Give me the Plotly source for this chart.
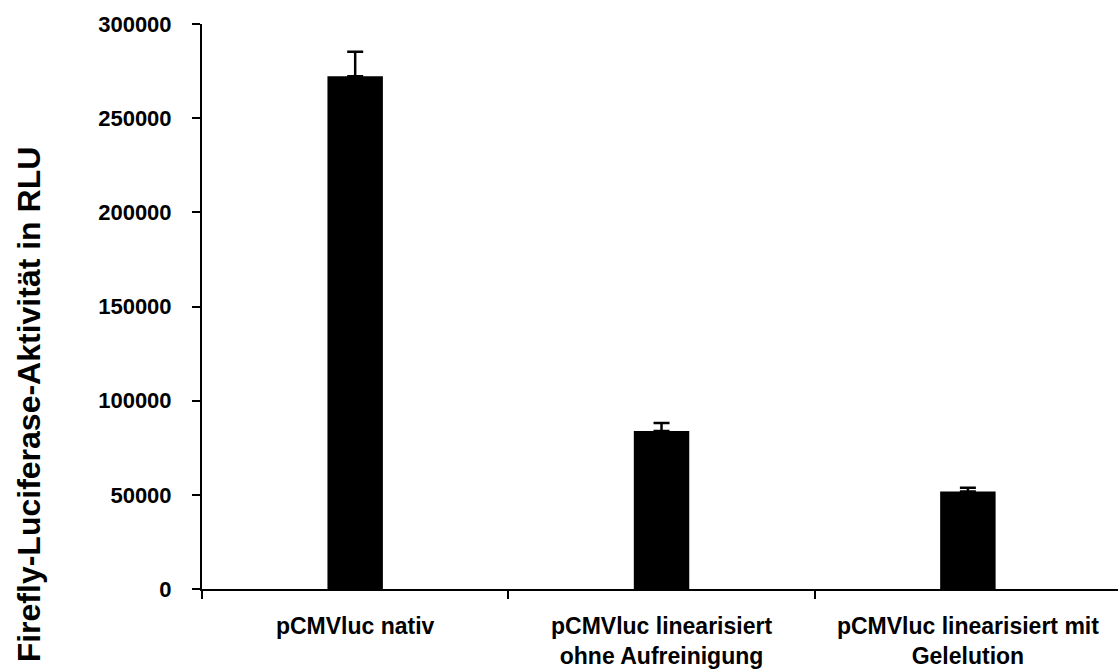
import plotly.graph_objects as go

categories = ["pCMVluc nativ", "pCMVluc linearisiert<br>ohne Aufreinigung", "pCMVluc linearisiert mit<br>Gelelution"]
values = [272200, 83900, 51800]
errors = [13100, 4200, 2000]
y_ticks = [0, 50000, 100000, 150000, 200000, 250000, 300000]
y_title = "Firefly-Luciferase-Aktivität in RLU"

FONT = "Liberation Sans, Arial, sans-serif"

fig = go.Figure()
fig.add_trace(go.Bar(
    x=categories, y=values,
    marker=dict(color="black", line=dict(width=0)),
    width=0.181,
    error_y=dict(type="data", array=errors, arrayminus=[0]*len(errors), symmetric=False,
                 color="black", thickness=2.5, width=8),
))

fig.update_layout(
    width=1118, height=669,
    margin=dict(l=202, r=0, t=24, b=80, pad=0),
    plot_bgcolor="white", paper_bgcolor="white",
    showlegend=False,
    font=dict(family=FONT, color="black"),
    xaxis=dict(
        type="category", range=[-0.5, 2.49],
        showline=True, linecolor="black", linewidth=2,
        ticks="outside", tickson="boundaries", ticklen=8, tickwidth=2, tickcolor="black",
        tickfont=dict(size=23, family=FONT, weight="bold"),
        ticklabelstandoff=15,
        showgrid=False, zeroline=False,
    ),
    yaxis=dict(
        range=[0, 300000], tickvals=y_ticks, ticktext=[str(v) for v in y_ticks],
        showline=True, linecolor="black", linewidth=2,
        ticks="outside", ticklen=8, tickwidth=2, tickcolor="black",
        tickfont=dict(size=22, family=FONT, weight="bold"),
        ticklabelstandoff=16,
        showgrid=False, zeroline=False,
    ),
    annotations=[dict(
        text=y_title, textangle=-90, showarrow=False,
        xref="paper", yref="paper", x=0, y=(588.5 - 404) / 564.5,
        xanchor="center", yanchor="middle", xshift=29 - 202,
        font=dict(size=32, family=FONT, weight="bold", color="black"),
    )],
)

fig.write_html("out.html")
